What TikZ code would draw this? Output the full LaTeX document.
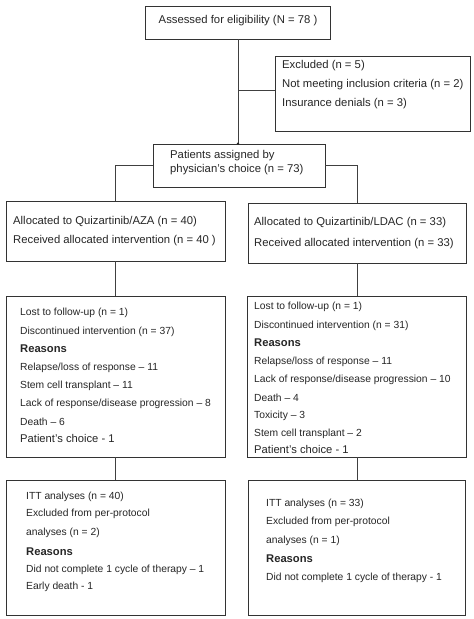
\documentclass[tikz,border=0pt]{standalone}
\usepackage{fontspec}
\setmainfont{Liberation Sans}
\begin{document}
\begin{tikzpicture}[x=1pt,y=-1pt,
  box/.style={draw=black!80,line width=0.9pt,inner sep=0pt,fill=none},
  conn/.style={draw=black!75,line width=0.9pt},
  txt/.style={anchor=west,inner sep=0pt,font=\fontsize{10.3}{12}\selectfont,text=black!85},
  toptxt/.style={anchor=west,inner sep=0pt,font=\fontsize{11.3}{13}\selectfont,text=black!85},
  hd/.style={anchor=west,inner sep=0pt,font=\fontsize{11.2}{13}\selectfont\bfseries,text=black!85},
  big/.style={anchor=west,inner sep=0pt,font=\fontsize{11.2}{13}\selectfont,text=black!85}]
\useasboundingbox (0,0) rectangle (474,619);
\fill[white] (0,0) rectangle (474,619);
% boxes
\node[box,minimum width=185pt,minimum height=33pt] (A) at (237.5,22.5) {};
\node[box,minimum width=195pt,minimum height=75pt] (E) at (372.5,93.5) {};
\node[box,minimum width=172pt,minimum height=43pt] (P) at (239,165.5) {};
\node[box,minimum width=219pt,minimum height=60pt] (L1) at (115.5,231) {};
\node[box,minimum width=218pt,minimum height=60pt] (R1) at (357,233) {};
\node[box,minimum width=219pt,minimum height=161pt] (L2) at (115.5,376.5) {};
\node[box,minimum width=219pt,minimum height=161pt] (R2) at (356.5,376.5) {};
\node[box,minimum width=219pt,minimum height=135pt] (L3) at (115.5,547.5) {};
\node[box,minimum width=217pt,minimum height=135pt] (R3) at (356.5,547.5) {};
% texts
\node[toptxt,anchor=center] (tA) at (238,21) {Assessed for eligibility (N = 78 )};
\node[toptxt] (tE1) at (282,66) {Excluded (n = 5)};
\node[toptxt] (tE2) at (282,85) {Not meeting inclusion criteria (n = 2)};
\node[toptxt] (tE3) at (282,104) {Insurance denials (n = 3)};
\node[toptxt] (tP1) at (170,156) {Patients assigned by};
\node[toptxt] (tP2) at (170,170) {physician's choice (n = 73)};
\node[toptxt] (tL11) at (13,222) {Allocated to Quizartinib/AZA (n = 40)};
\node[toptxt] (tL12) at (13,241) {Received allocated intervention (n = 40 )};
\node[toptxt] (tR11) at (254,223) {Allocated to Quizartinib/LDAC (n = 33)};
\node[toptxt] (tR12) at (254,244) {Received allocated intervention (n = 33)};
\node[txt] (tL21) at (20,313) {Lost to follow-up (n = 1)};
\node[txt] (tL22) at (20,332) {Discontinued intervention (n = 37)};
\node[hd] (tL23) at (20,349) {Reasons};
\node[txt] (tL24) at (20,368) {Relapse/loss of response -- 11};
\node[txt] (tL25) at (20,386) {Stem cell transplant -- 11};
\node[txt] (tL26) at (20,404) {Lack of response/disease progression -- 8};
\node[txt] (tL27) at (20,422) {Death -- 6};
\node[big] (tL28) at (20,438) {Patient's choice - 1};
\node[txt] (tR21) at (254,307) {Lost to follow-up (n = 1)};
\node[txt] (tR22) at (254,326) {Discontinued intervention (n = 31)};
\node[hd] (tR23) at (254,343) {Reasons};
\node[txt] (tR24) at (254,362) {Relapse/loss of response -- 11};
\node[txt] (tR25) at (254,380) {Lack of response/disease progression -- 10};
\node[txt] (tR26) at (254,398) {Death -- 4};
\node[txt] (tR27) at (254,416) {Toxicity -- 3};
\node[txt] (tR28) at (254,434) {Stem cell transplant -- 2};
\node[big] (tR29) at (254,449) {Patient's choice - 1};
\node[txt] (tL31) at (26,497) {ITT analyses (n = 40)};
\node[txt] (tL32) at (26,514) {Excluded from per-protocol};
\node[txt] (tL33) at (26,533) {analyses (n = 2)};
\node[hd] (tL34) at (26,552) {Reasons};
\node[txt] (tL35) at (26,570) {Did not complete 1 cycle of therapy -- 1};
\node[txt] (tL36) at (26,587) {Early death - 1};
\node[txt] (tR31) at (266,504) {ITT analyses (n = 33)};
\node[txt] (tR32) at (266,522) {Excluded from per-protocol};
\node[txt] (tR33) at (266,541) {analyses (n = 1)};
\node[hd] (tR34) at (266,559) {Reasons};
\node[txt] (tR35) at (266,578) {Did not complete 1 cycle of therapy - 1};
% connectors
\coordinate (jA) at (238,90);
\draw[conn] (A.south -| jA) -- (P.north -| jA);
\fill[black!85] (P.north -| jA) circle (1.3pt);
\draw[conn] (jA) -- (jA -| E.west);
\draw[conn] (P.west) -| (L1.north);
\draw[conn] (P.east) -| (R1.north);
\draw[conn] (L1.south) -- (L2.north);
\draw[conn] (R1.south) -- (R2.north -| R1.south);
\draw[conn] (L2.south) -- (L3.north);
\draw[conn] (R2.south -| R1.south) -- (R3.north -| R1.south);
\end{tikzpicture}
\end{document}
